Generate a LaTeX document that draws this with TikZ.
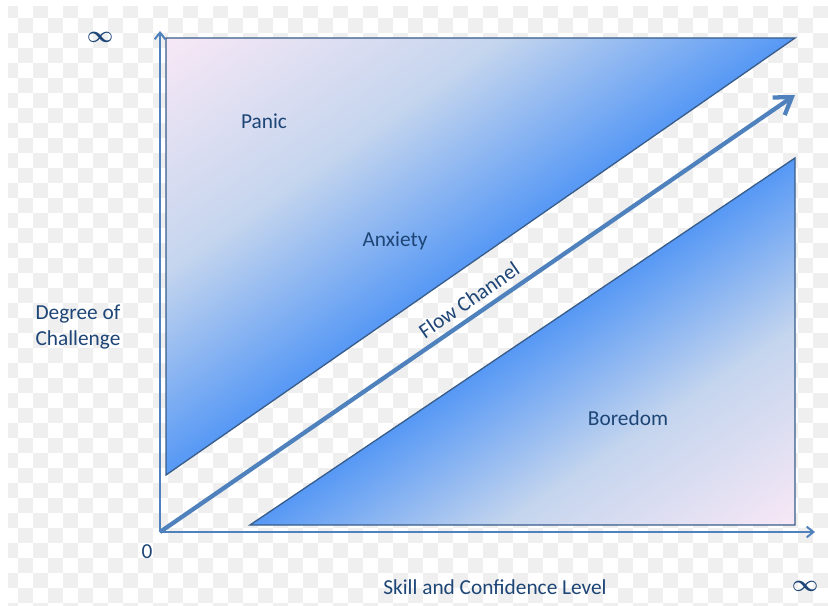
\documentclass[tikz,border=0pt]{standalone}
\usepackage{fontspec}
\setmainfont{Carlito}
\usetikzlibrary{arrows.meta}
\definecolor{txtblue}{HTML}{1D4576}
\definecolor{axblue}{HTML}{4F81BD}
\definecolor{edgeblue}{HTML}{385D8A}
\definecolor{pinkish}{HTML}{F8E8F6}
\definecolor{midblue}{HTML}{C4D5EE}
\definecolor{deepblue}{HTML}{5698F5}
\definecolor{checker}{HTML}{EFEFEF}
\begin{document}
\begin{tikzpicture}[x=0.75pt,y=0.75pt,
  lbl/.style={text=txtblue,font=\fontsize{16}{20}\selectfont,inner sep=0pt},
  inf/.style={text=txtblue,font=\fontsize{19}{22}\selectfont\boldmath,inner sep=0pt},
  axis/.style={draw=axblue,line width=1.5pt,-{Straight Barb[length=5pt,width=8pt]}},
  flowarrow/.style={draw=axblue,line width=3.2pt,-{Straight Barb[length=12pt,width=16pt]}},
  zone/.style={draw=edgeblue,line width=1pt,line join=miter}]
\useasboundingbox (0,-606) rectangle (828,0);
\begin{scope}
  \clip (8,-7) rectangle (828,-606);
  \foreach \i in {0,2,...,54}
    \foreach \j in {0,2,...,40}{
      \fill[checker] ({3.3+15*\i},{-3.3-15*\j}) rectangle ++(15,-15);
      \fill[checker] ({18.3+15*\i},{-18.3-15*\j}) rectangle ++(15,-15);
    }
\end{scope}
\coordinate (pa) at (166,-38);
\coordinate (pb) at (795,-38);
\coordinate (pc) at (166,-475);
\coordinate (qd) at (250,-525);
\coordinate (qe) at (795,-525);
\coordinate (qf) at (795,-158);
\begin{scope}
  \clip (pa) -- (pb) -- (pc) -- cycle;
  \shade[transform canvas={shift={(pc)},rotate=34.79},top color=midblue,bottom color=deepblue] (-10,-1) rectangle (780,166);
  \shade[transform canvas={shift={(pc)},rotate=34.79},top color=pinkish,bottom color=midblue] (-10,165) rectangle (780,360);
\end{scope}
\draw[zone] (pa) -- (pb) -- (pc) -- cycle;
\begin{scope}
  \clip (qd) -- (qe) -- (qf) -- cycle;
  \shade[transform canvas={shift={(qd)},rotate=33.96},top color=deepblue,bottom color=midblue] (-10,-141) rectangle (670,1);
  \shade[transform canvas={shift={(qd)},rotate=33.96},top color=midblue,bottom color=pinkish] (-10,-306) rectangle (670,-140);
\end{scope}
\draw[zone] (qd) -- (qe) -- (qf) -- cycle;
\coordinate (o) at (160,-532);
\coordinate (ytop) at (160,-31);
\coordinate (xend) at (815,-532);
\coordinate (ftip) at (795,-95);
\draw[axis] (o) -- (ytop);
\draw[axis] (o) -- (xend);
\draw[flowarrow] (o) -- (ftip);
\node[lbl] (panic) at (264,-121) {Panic};
\node[lbl] (anxiety) at (395,-241) {Anxiety};
\node[lbl] (boredom) at (628,-418) {Boredom};
\node[lbl,rotate=34.6] (flow) at (469,-300) {Flow Channel};
\node[lbl,align=center] (challenge) at (78,-327) {Degree of\\Challenge};
\node[lbl] (skill) at (495,-587) {Skill and Confidence Level};
\node[lbl] (zero) at (147,-552) {0};
\node[inf] (infy) at (100,-37) {$\infty$};
\node[inf] (infx) at (805,-586) {$\infty$};
\end{tikzpicture}
\end{document}
